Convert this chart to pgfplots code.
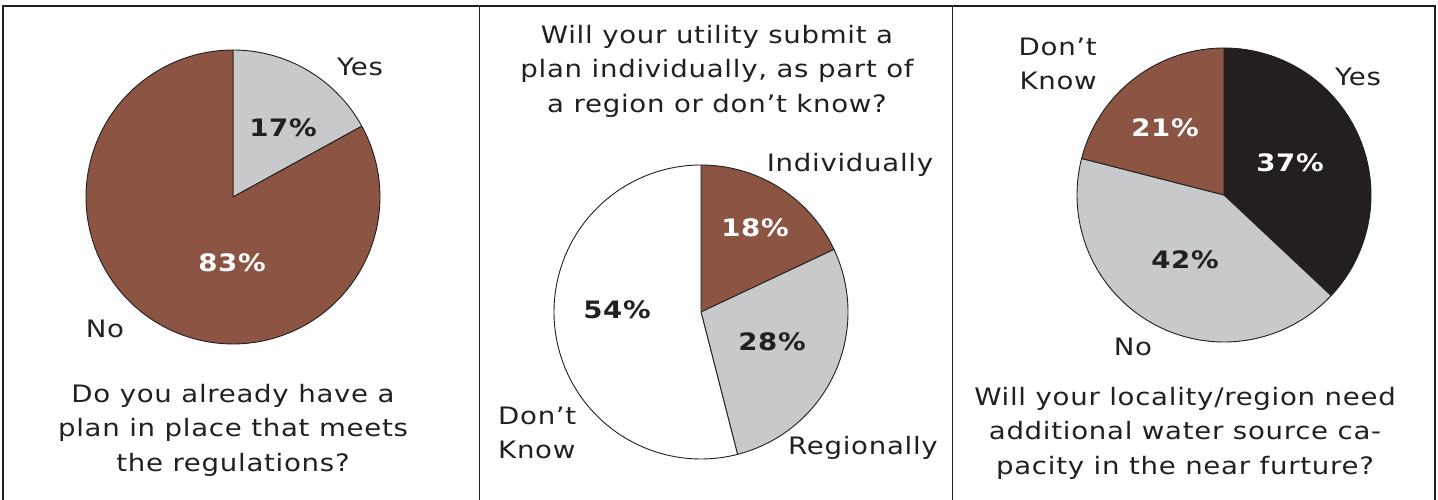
\documentclass[border=0pt]{standalone}
\usepackage{pgfplots}
\pgfplotsset{compat=1.18}
\usepgfplotslibrary{polar}
\usepackage{fontspec}
\setmainfont{DejaVu Sans}[FakeStretch=1.15, LetterSpace=3]
\definecolor{pbrown}{HTML}{8C5443}
\definecolor{pgrey}{HTML}{C8C9CB}
\definecolor{pblack}{HTML}{231F20}
\definecolor{ptext}{HTML}{231F20}
\pgfplotsset{
  pie/.style={scale only axis, width=294pt, height=294pt, hide axis,
    xmin=0, xmax=360, ymin=0, ymax=1, clip=false, anchor=origin},
  wedge/.style={draw=ptext, line width=0.9pt, samples=120, line join=round},
}
\newcommand{\lab}{\fontsize{24}{34.5}\selectfont}
\newcommand{\pct}{\fontsize{24}{34}\selectfont\bfseries}
\begin{document}
\begin{tikzpicture}[x=1pt,y=1pt]
\path[use as bounding box] (0pt,0pt) rectangle (1438pt,500pt);
\fill[white] (0pt,0pt) rectangle (1438pt,500pt);
% frames
\draw[ptext, line width=2pt] (3pt,0pt) -- (3pt,494pt) -- (1435pt,494pt) -- (1435pt,0pt);
\draw[ptext, line width=1.5pt] (479.5pt,494pt) -- (479.5pt,0pt);
\draw[ptext, line width=1.5pt] (952.5pt,494pt) -- (952.5pt,0pt);

% ---- Pie 1: Yes 17, No 83
\begin{polaraxis}[pie, at={(233pt,303pt)}]
\addplot[wedge, fill=pgrey, domain=28.8:90] {1} -- (axis cs:0,0) -- cycle;   % Yes 17%
\addplot[wedge, fill=pbrown, domain=90:388.8] {1} -- (axis cs:0,0) -- cycle; % No 83%
\end{polaraxis}
\node[text=ptext, font=\lab] at (360pt,433pt) {Yes};
\node[text=ptext, font=\lab] at (105pt,171pt) {No};
\node[text=ptext, font=\pct] at (283pt,372pt) {17\%};
\node[text=white, font=\pct] at (232pt,237pt) {83\%};
\node[text=ptext, font=\lab, align=center] at (233pt,70pt) {Do you already have a\\plan in place that meets\\the regulations?};

% ---- Pie 2: Individually 18, Regionally 28, Don't know 54
\begin{polaraxis}[pie, at={(701pt,188pt)}]
\addplot[wedge, fill=pbrown, domain=25.2:90] {1} -- (axis cs:0,0) -- cycle;   % Individually 18%
\addplot[wedge, fill=pgrey, domain=-75.6:25.2] {1} -- (axis cs:0,0) -- cycle;  % Regionally 28%
\addplot[wedge, fill=white, domain=90:284.4] {1} -- (axis cs:0,0) -- cycle;    % Don't know 54%
\end{polaraxis}
\node[text=ptext, font=\lab, align=center] at (717pt,429pt) {Will your utility submit a\\plan individually, as part of\\a region or don’t know?};
\node[text=ptext, font=\lab] at (850pt,335pt) {Individually};
\node[text=ptext, font=\lab] at (863pt,52pt) {Regionally};
\node[text=ptext, font=\lab, align=left, anchor=west, inner sep=0pt] at (498pt,67pt) {Don’t\\Know};
\node[text=white, font=\pct] at (755pt,272pt) {18\%};
\node[text=ptext, font=\pct] at (617pt,190pt) {54\%};
\node[text=ptext, font=\pct] at (772pt,158pt) {28\%};

% ---- Pie 3: Yes 37, No 42, Don't know 21
\begin{polaraxis}[pie, at={(1224pt,305pt)}]
\addplot[wedge, fill=pblack, domain=-43.2:90] {1} -- (axis cs:0,0) -- cycle;   % Yes 37%
\addplot[wedge, fill=pgrey, domain=165.6:316.8] {1} -- (axis cs:0,0) -- cycle; % No 42%
\addplot[wedge, fill=pbrown, domain=90:165.6] {1} -- (axis cs:0,0) -- cycle;   % Don't know 21%
\end{polaraxis}
\node[text=ptext, font=\lab, align=right, anchor=east, inner sep=0pt] at (1097pt,436pt) {Don’t\\Know};
\node[text=ptext, font=\lab] at (1358pt,423pt) {Yes};
\node[text=ptext, font=\lab] at (1133pt,153pt) {No};
\node[text=white, font=\pct] at (1165pt,372pt) {21\%};
\node[text=white, font=\pct] at (1290pt,337pt) {37\%};
\node[text=ptext, font=\pct] at (1185pt,240pt) {42\%};
\node[text=ptext, font=\lab, align=center] at (1185pt,67pt) {Will your locality/region need\\additional water source ca-\\pacity in the near furture?};
\end{tikzpicture}
\end{document}
